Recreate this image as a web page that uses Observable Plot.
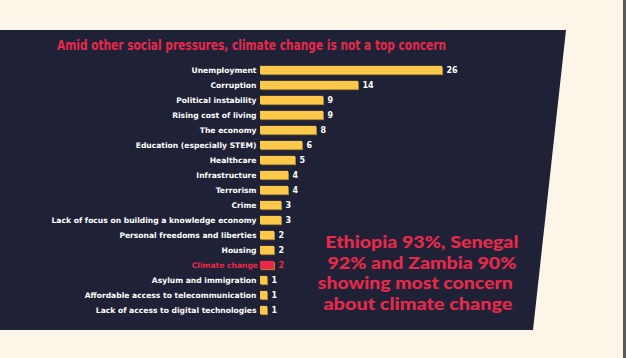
<!DOCTYPE html>
<html>
<head>
<meta charset="utf-8">
<script src="https://cdn.jsdelivr.net/npm/d3@7"></script>
<script src="https://cdn.jsdelivr.net/npm/@observablehq/plot@0.6"></script>
<style>
  html, body { margin: 0; padding: 0; }
  body { width: 626px; height: 358px; background: #fdf6e8; position: relative; overflow: hidden; font-family: "DejaVu Sans", sans-serif; }
  #panel { position: absolute; left: 0; top: 30px; width: 566px; height: 300px; background: #1f2237;
           clip-path: polygon(0 0, 566px 0, 533px 300px, 0 300px); }
  #edge { position: absolute; left: 623px; top: 0; width: 3px; height: 358px; background: #5a5a5a; }
  #title { position: absolute; left: 57px; top: 37px; color: #e8294a; transform-origin: 0 0;
           font-family: "DejaVu Sans", sans-serif; font-weight: bold; font-size: 14px; white-space: nowrap; }
  .nl { position: absolute; width: 300px; height: 20px; line-height: 20px; text-align: center; color: #e8294a;
        font-family: Lato, sans-serif; font-weight: 900; font-size: 17px; white-space: nowrap; }
  .nl span { display: inline-block; }
  #chart { position: absolute; left: 0; top: 0; }
</style>
</head>
<body>
<div id="panel"></div>
<div id="edge"></div>
<div id="title">Amid other social pressures, climate change is not a top concern</div>
<div id="note"></div>
<div id="chart"></div>
<script>
const concerns = [
  "Unemployment", "Corruption", "Political instability", "Rising cost of living", "The economy",
  "Education (especially STEM)", "Healthcare", "Infrastructure", "Terrorism", "Crime",
  "Lack of focus on building a knowledge economy", "Personal freedoms and liberties", "Housing",
  "Climate change", "Asylum and immigration", "Affordable access to telecommunication",
  "Lack of access to digital technologies"
];
const shares = [26, 14, 9, 9, 8, 6, 5, 4, 4, 3, 3, 2, 2, 2, 1, 1, 1];
const highlight = "Climate change";
const noteLines = ["Ethiopia 93%, Senegal", "92% and Zambia 90%", "showing most concern", "about climate change"];

const data = concerns.map((c, i) => ({concern: c, value: shares[i], hi: c === highlight}));
const yellow = "#fec84a", red = "#e8294a", shadow = "#a9862f";

const plot = Plot.plot({
  width: 626,
  height: 358,
  marginLeft: 260,
  marginRight: 184,
  marginTop: 59.1,
  marginBottom: 37.1,
  style: {background: "transparent", overflow: "visible"},
  x: {domain: [0, 26], axis: null},
  y: {domain: concerns, padding: 0.45, round: false, label: null},
  marks: [
    Plot.barX(data, {x: "value", y: "concern", fill: shadow, dx: 1, dy: 1}),
    Plot.barX(data, {x: "value", y: "concern", fill: d => d.hi ? red : yellow}),
    Plot.text(data, {x: "value", y: "concern", text: d => String(d.value), textAnchor: "start", dx: 4,
      fill: d => d.hi ? red : "#ffffff", fontSize: 8, fontWeight: "bold", fontFamily: "DejaVu Sans"}),
    Plot.axisY({tickSize: 0, tickPadding: 4, fontSize: 7.6, fontWeight: "bold", fontFamily: "DejaVu Sans",
      color: "#ffffff", label: null}),
  ]
});
// colour the highlighted tick label
d3.select(plot).selectAll("[aria-label='y-axis tick label'] text")
  .filter(function() { return this.textContent === highlight; })
  .attr("fill", red).attr("dx", 1.5);
document.getElementById("chart").appendChild(plot);

// condense the title to the reference's width (389px)
const t = document.getElementById("title");
t.style.transform = `scaleX(${389 / t.getBoundingClientRect().width})`;

// annotation lines, each stretched to the width seen in the reference
const noteCenters = [421.5, 421.5, 415.5, 417.5];
const noteMid = [242, 262.5, 283, 303.5];
const noteWidths = [193, 189, 195, 189];
const note = document.getElementById("note");
noteLines.forEach((txt, i) => {
  const div = document.createElement("div");
  div.className = "nl";
  div.style.left = (noteCenters[i] - 150) + "px";
  div.style.top = (noteMid[i] - 10) + "px";
  const s = document.createElement("span");
  s.textContent = txt;
  div.appendChild(s);
  note.appendChild(div);
  s.style.transform = `scaleX(${noteWidths[i] / s.getBoundingClientRect().width})`;
});
</script>
</body>
</html>
